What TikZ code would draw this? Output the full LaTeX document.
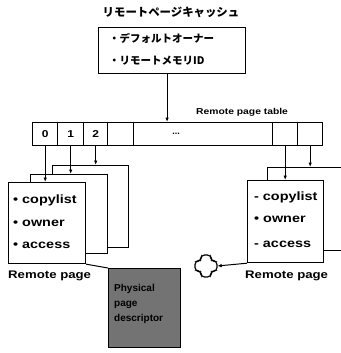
\documentclass[tikz,border=0pt]{standalone}
\usepackage{fontspec}
\setmainfont{Liberation Sans}
\newfontfamily\lab{Liberation Sans}[FakeStretch=1.2]
\newfontfamily\jp{Noto Sans CJK JP}
\usetikzlibrary{arrows.meta}
\begin{document}
\begin{tikzpicture}[x=1pt,y=-1pt,
  boxst/.style={draw,line width=1.2pt,fill=white,inner sep=0,anchor=north west},
  cellst/.style={draw,line width=1.4pt,inner sep=0,minimum height=23pt,anchor=north west,font=\lab\bfseries\fontsize{10}{10}\selectfont},
  arr/.style={line width=1pt,-{Latex[length=4.5pt,width=3.5pt]}},
  item/.style={anchor=west,inner sep=0,font=\lab\bfseries\fontsize{12}{12}\selectfont},
  jptext/.style={anchor=west,inner sep=0,font=\jp\bfseries\fontsize{10.5}{10.5}\selectfont},
  caption/.style={anchor=west,inner sep=0,font=\lab\bfseries\fontsize{11}{11}\selectfont}]
\useasboundingbox (0,0) rectangle (340,353);
% title and top box
\node[inner sep=0,font=\jp\bfseries\fontsize{11.4}{11.4}\selectfont] (title) at (171,12) {リモートページキャッシュ};
\node[boxst,minimum width=147pt,minimum height=46pt] (tb) at (98,27) {};
\node[jptext] (tb1) at (109,38) {・デフォルトオーナー};
\node[jptext] (tb2) at (109,61) {・リモートメモリID};
% table
\node[anchor=west,inner sep=0,font=\lab\bfseries\fontsize{8.6}{8.6}\selectfont] (tlab) at (196,112) {Remote page table};
\node[cellst,minimum width=25pt] (c0) at (32,122) {0};
\node[cellst,minimum width=26pt] (c1) at (57,122) {1};
\node[cellst,minimum width=24pt] (c2) at (83,122) {2};
\node[cellst,minimum width=26pt] (c3) at (107,122) {};
\node[cellst,minimum width=139pt] (c4) at (133,122) {};
\node[cellst,minimum width=25pt] (c5) at (272,122) {};
\node[cellst,minimum width=25pt] (c6) at (297,122) {};
\node[inner sep=0,font=\bfseries\fontsize{9}{9}\selectfont] (dots) at (176,134) {...};
\draw[arr] ([xshift=-5pt]tb.south) -- ([xshift=-5pt]tb.south |- c4.north);
% left stack
\node[boxst,minimum width=76pt,minimum height=82pt] (lp2) at (52,165) {};
\node[boxst,minimum width=77pt,minimum height=79pt] (lp1) at (30,174) {};
\node[boxst,minimum width=77pt,minimum height=81pt] (lp0) at (8,182) {};
\draw[arr] (c0.south) -- (c0.south |- lp0.north);
\draw[arr] (c1.south) -- (c1.south |- lp1.north);
\draw[arr] (c2.south) -- (c2.south |- lp2.north);
\node[item] (l1) at (13,200) {\textbullet\ copylist};
\node[item] (l2) at (13,223) {\textbullet\ owner};
\node[item] (l3) at (13,245) {\textbullet\ access};
\node[caption] (lcap) at (8,276) {Remote page};
% right stack
\node[boxst,minimum width=100pt,minimum height=83pt] (rp1) at (267,167) {};
\node[boxst,minimum width=76pt,minimum height=82pt] (rp0) at (247,180) {};
\draw[arr] (c5.south) -- (c5.south |- rp0.north);
\draw[arr] (c6.south) -- (c6.south |- rp1.north);
\node[item] (r1) at (254,197) {- copylist};
\node[item] (r2) at (254,219) {\textbullet\ owner};
\node[item] (r3) at (254,244) {- access};
\node[caption] (rcap) at (245,276) {Remote page};
% physical page descriptor
\node[draw,line width=1.2pt,fill=black!55,anchor=north west,minimum width=72pt,minimum height=79pt,inner sep=0] (phys) at (108,268) {};
\node[anchor=north west,inner sep=0,align=left,font=\bfseries\fontsize{10}{15}\selectfont] (ptext) at (114,284) {Physical\\page\\descriptor};
\draw[line width=1pt] (lp0.south east) -- (phys.north west);
% invalid marker
\node[minimum size=22pt,inner sep=0] (cross) at (206,266) {};
\draw[line width=1.2pt,rounded corners=3.5pt]
  ([shift={(-5,-11)}]cross.center) -- ([shift={(5,-11)}]cross.center) -- ([shift={(5,-5)}]cross.center)
  -- ([shift={(11,-5)}]cross.center) -- ([shift={(11,5)}]cross.center) -- ([shift={(5,5)}]cross.center)
  -- ([shift={(5,11)}]cross.center) -- ([shift={(-5,11)}]cross.center) -- ([shift={(-5,5)}]cross.center)
  -- ([shift={(-11,5)}]cross.center) -- ([shift={(-11,-5)}]cross.center) -- ([shift={(-5,-5)}]cross.center) -- cycle;
\draw[arr] (rp0.south west) -- (cross.east);
\end{tikzpicture}
\end{document}
